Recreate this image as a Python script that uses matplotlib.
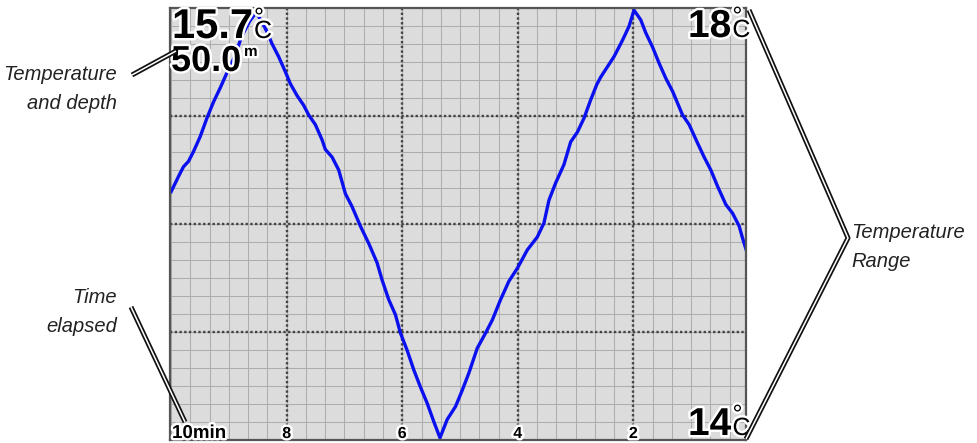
import matplotlib
matplotlib.use("Agg")
import matplotlib.pyplot as plt
import matplotlib.patheffects as pe
import numpy as np

# water temperature log, minutes before now vs degrees C
minutes = [10.00, 9.873, 9.787, 9.700, 9.614, 9.497, 9.381, 9.267, 9.151, 9.035,
           8.891, 8.804, 8.747, 8.640, 8.527, 8.428, 8.341, 8.255, 8.140, 8.024,
           7.938, 7.822, 7.707, 7.620, 7.504, 7.388, 7.331, 7.215, 7.100, 6.984,
           6.868, 6.724, 6.580, 6.435, 6.348, 6.234, 6.118, 6.031, 5.915, 5.801,
           5.685, 5.568, 5.454, 5.347, 5.222, 5.078, 4.962, 4.847, 4.702, 4.558,
           4.442, 4.298, 4.154, 4.008, 3.835, 3.662, 3.547, 3.461, 3.345, 3.201,
           3.085, 2.969, 2.854, 2.738, 2.634, 2.565, 2.334, 2.189, 2.075, 1.988,
           1.872, 1.785, 1.669, 1.555, 1.439, 1.322, 1.149, 1.034, 0.889, 0.775,
           0.659, 0.543, 0.399, 0.283, 0.168, 0.110, 0.035]
temps = [16.30, 16.44, 16.53, 16.58, 16.67, 16.81, 16.98, 17.13, 17.26, 17.40,
         17.56, 17.70, 17.77, 17.88, 17.96, 17.87, 17.78, 17.67, 17.55, 17.41,
         17.30, 17.19, 17.10, 17.01, 16.92, 16.78, 16.69, 16.62, 16.50, 16.28,
         16.16, 15.98, 15.82, 15.64, 15.48, 15.30, 15.16, 14.99, 14.83, 14.65,
         14.49, 14.34, 14.17, 14.02, 14.19, 14.31, 14.46, 14.62, 14.85, 14.99,
         15.11, 15.30, 15.47, 15.59, 15.76, 15.88, 16.01, 16.22, 16.38, 16.55,
         16.76, 16.85, 16.98, 17.15, 17.29, 17.36, 17.55, 17.70, 17.83, 17.98,
         17.89, 17.77, 17.64, 17.49, 17.35, 17.23, 17.01, 16.92, 16.75, 16.62,
         16.50, 16.35, 16.18, 16.10, 15.98, 15.87, 15.74]

t_min, t_max = 14, 18
time_ticks = [8, 6, 4, 2]
current_temp = "15.7"
current_depth = "50.0"

W, H = 977, 443
fig = plt.figure(figsize=(W / 100, H / 100), dpi=100)
fig.patch.set_facecolor("white")

ax = fig.add_axes([170 / W, 3 / H, 576 / W, 432 / H])
ax.set_facecolor("#dcdcdc")
ax.set_xlim(10.02, 0.05)
ax.set_ylim(t_min, t_max)

# minor grid: 6 steps per major division
for v in np.arange(10, 0, -1 / 3):
    ax.axvline(v, color="#adadad", lw=0.75, zorder=1)
for v in np.arange(t_min, t_max, 1 / 6):
    ax.axhline(v, color="#adadad", lw=0.75, zorder=1)
for v in time_ticks:
    ax.axvline(v, color="#444444", lw=1.7, ls=(0, (1, 1)), zorder=2)
for v in range(t_min + 1, t_max):
    ax.axhline(v, color="#444444", lw=1.7, ls=(0, (1, 1)), zorder=2)

ax.plot(minutes, temps, color="#0a10ee", lw=2.4, zorder=3, solid_joinstyle="round")

ax.set_xticks([])
ax.set_yticks([])
for s in ax.spines.values():
    s.set_color("#555555")
    s.set_linewidth(1.6)
    s.set_zorder(5)

# overlay in pixel coordinates for readouts and callouts
ov = fig.add_axes([0, 0, 1, 1], facecolor="none")
ov.set_xlim(0, W)
ov.set_ylim(H, 0)
ov.axis("off")

outline = [pe.withStroke(linewidth=3.5, foreground="white")]
bold = dict(family="Liberation Sans", weight="bold", color="black",
            path_effects=outline, zorder=6)


def readout(x, base, value, size):
    t = ov.text(x, base, value, fontsize=size, va="baseline", ha="left", **bold)
    fig.canvas.draw()
    right = t.get_window_extent().x1
    # degree sign stacked over the C
    ov.text(right + 1, base, "°\nC", fontsize=18, va="baseline", ha="left",
            linespacing=0.42, multialignment="left", family="Liberation Sans",
            color="black", path_effects=outline, zorder=6)


readout(172, 38, current_temp, 30)
ov.text(171, 71, current_depth, fontsize=26, va="baseline", ha="left", **bold)
ov.text(244, 56, "m", fontsize=11, va="baseline", ha="left", **bold)
readout(688, 37, str(t_max), 28)
readout(688, 435, str(t_min), 28)

ov.text(172, 438, "10min", fontsize=13.5, va="baseline", ha="left", **bold)
for v in time_ticks:
    x = ax.transData.transform((v, t_min))[0]
    ov.text(x, 438, str(v), fontsize=11.5, va="baseline", ha="center", **bold)


def callout(pts):
    xs, ys = zip(*pts)
    ov.plot(xs, ys, color="#111111", lw=3.6, solid_capstyle="butt", zorder=7)
    ov.plot(xs, ys, color="white", lw=1.1, solid_capstyle="butt", zorder=7)


callout([(132, 75), (176, 51)])
callout([(131, 307), (185, 422)])
callout([(749, 10), (848, 238), (746, 439)])

label = dict(family="Liberation Sans", style="italic", fontsize=14.5, color="#222222")
ov.text(117, 80, "Temperature", ha="right", va="baseline", **label)
ov.text(117, 109, "and depth", ha="right", va="baseline", **label)
ov.text(117, 303, "Time", ha="right", va="baseline", **label)
ov.text(117, 332, "elapsed", ha="right", va="baseline", **label)
ov.text(851, 238, "Temperature", ha="left", va="baseline", **label)
ov.text(851, 267, "Range", ha="left", va="baseline", **label)

fig.savefig("out.png", dpi=100)
